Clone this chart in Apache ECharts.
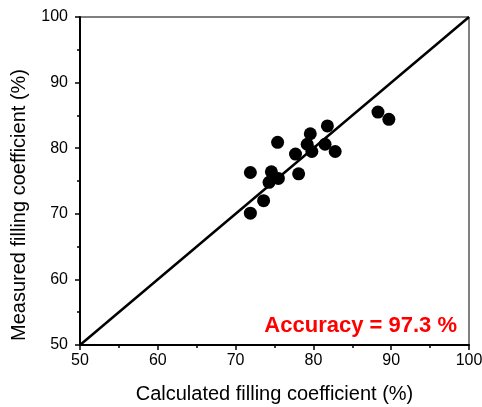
<!DOCTYPE html>
<html>
<head>
<meta charset="utf-8">
<script src="https://cdn.jsdelivr.net/npm/echarts@6/dist/echarts.min.js"></script>
<style>html,body{margin:0;padding:0;background:#fff;}#c{width:482px;height:407px;}</style>
</head>
<body>
<div id="c"></div>
<script>
const calculated = [71.9, 73.6, 71.9, 74.6, 74.3, 75.5, 78.1, 75.4, 77.7, 79.6, 79.2, 79.8, 81.8, 81.5, 82.8, 88.3, 89.7];
const measured   = [70.1, 72.0, 76.3, 76.4, 74.8, 75.4, 76.1, 80.9, 79.1, 82.2, 80.6, 79.5, 83.4, 80.6, 79.5, 85.5, 84.4];
const identityLine = [[50, 50], [100, 100]];
const xTicks = [50, 60, 70, 80, 90, 100];
const yTicks = [50, 60, 70, 80, 90, 100];
const accuracyText = 'Accuracy = 97.3 %';

const points = calculated.map((x, i) => [x, measured[i]]);
const font = 'Liberation Sans, Arial, sans-serif';
const chart = echarts.init(document.getElementById('c'));
chart.setOption({
  animation: false,
  grid: { left: 80, right: 13, top: 17, bottom: 62, show: true, borderColor: '#000', borderWidth: 1, outerBoundsMode: 'none', containLabel: false },
  xAxis: {
    type: 'value', min: xTicks[0], max: xTicks[xTicks.length - 1], interval: 10,
    name: 'Calculated filling coefficient (%)', nameLocation: 'middle', nameGap: 39,
    nameTextStyle: { fontFamily: font, fontSize: 20, color: '#000' },
    axisLine: { lineStyle: { color: '#000', width: 2 } },
    axisTick: { show: true, length: 5, lineStyle: { color: '#000', width: 1.5 } },
    minorTick: { show: true, splitNumber: 2, length: 3, lineStyle: { color: '#000', width: 1.5 } },
    splitLine: { show: false },
    axisLabel: { fontFamily: font, fontSize: 16, color: '#000', margin: 8 }
  },
  yAxis: {
    type: 'value', min: yTicks[0], max: yTicks[yTicks.length - 1], interval: 10,
    name: 'Measured filling coefficient (%)', nameLocation: 'middle', nameGap: 51,
    nameTextStyle: { fontFamily: font, fontSize: 20, color: '#000', padding: [0, 48, 0, 0] },
    axisLine: { lineStyle: { color: '#000', width: 2 } },
    axisTick: { show: true, length: 5, lineStyle: { color: '#000', width: 1.5 } },
    minorTick: { show: true, splitNumber: 2, length: 3, lineStyle: { color: '#000', width: 1.5 } },
    splitLine: { show: false },
    axisLabel: { fontFamily: font, fontSize: 16, color: '#000', margin: 12 }
  },
  series: [
    {
      type: 'line', data: identityLine, symbol: 'none', silent: true,
      lineStyle: { color: '#000', width: 2.5 }, z: 2
    },
    {
      type: 'scatter', data: points, symbol: 'circle', symbolSize: 13,
      itemStyle: { color: '#000', opacity: 1 }, z: 3
    }
  ],
  graphic: [{
    type: 'text', right: 25, top: 315,
    style: { text: accuracyText, fill: '#ff0000', font: 'bold 22px ' + font }
  }]
});
</script>
</body>
</html>
